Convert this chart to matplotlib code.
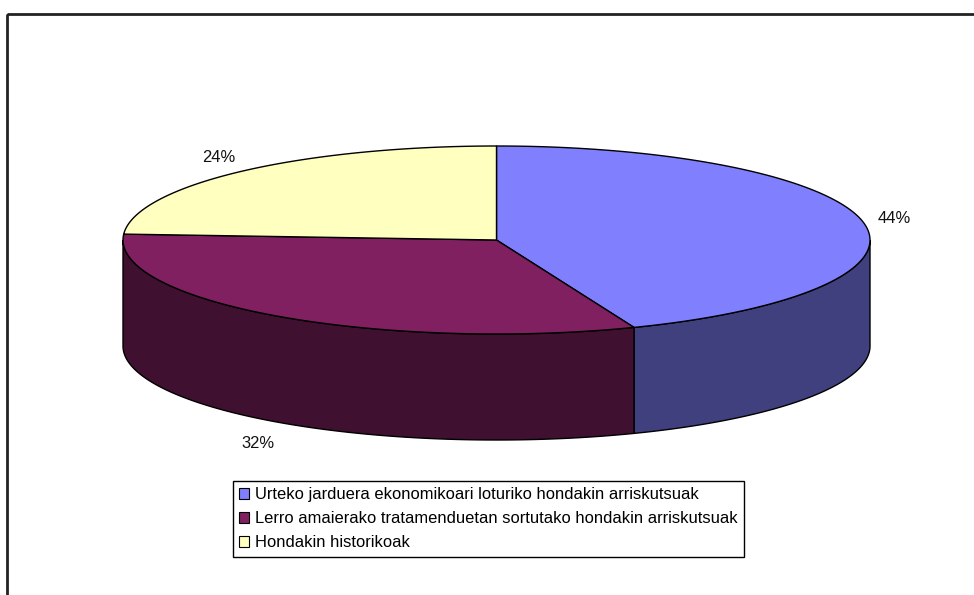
import numpy as np
import matplotlib
matplotlib.use("Agg")
import matplotlib.pyplot as plt
from matplotlib.patches import Polygon, Rectangle, Patch

plt.rcParams['font.family'] = ['Liberation Sans', 'DejaVu Sans']

categories = [
    "Urteko jarduera ekonomikoari loturiko hondakin arriskutsuak",
    "Lerro amaierako tratamenduetan sortutako hondakin arriskutsuak",
    "Hondakin historikoak",
]
values = [44, 32, 24]
labels = ["44%", "32%", "24%"]
top_colors = ["#8080FF", "#802060", "#FFFFC0"]
side_colors = ["#40407F", "#401030", "#80805F"]

W, H = 974, 595
fig = plt.figure(figsize=(W / 100, H / 100), dpi=100)
ax = fig.add_axes([0, 0, 1, 1])
ax.set_xlim(0, W)
ax.set_ylim(H, 0)
ax.axis('off')

# chart frame (partly cropped)
ax.add_patch(Rectangle((7, 14), 990, 600, fill=False, ec="#222222", lw=2, zorder=1))

cx, cy, a, b, d = 496.5, 240.0, 373.5, 94.0, 106.0
total = sum(values)

def pt(theta, dy=0.0):
    return cx + a * np.cos(theta), cy - b * np.sin(theta) + dy

start = np.pi / 2
bounds = []
for v in values:
    end = start - 2 * np.pi * v / total
    bounds.append((start, end))
    start = end

# side walls (front half)
for (s, e), sc in zip(bounds, side_colors):
    th = np.linspace(s, e, 400)
    front = np.sin(th) <= 1e-9
    if not front.any():
        continue
    tf = th[front]
    x, y = pt(tf)
    xb, yb = pt(tf, d)
    poly = np.vstack([np.column_stack([x, y]), np.column_stack([xb, yb])[::-1]])
    ax.add_patch(Polygon(poly, closed=True, fc=sc, ec="black", lw=1.0, zorder=2))

# tops
for (s, e), tc in zip(bounds, top_colors):
    th = np.linspace(s, e, 400)
    x, y = pt(th)
    poly = np.vstack([[cx, cy], np.column_stack([x, y])])
    ax.add_patch(Polygon(poly, closed=True, fc=tc, ec="black", lw=1.0, zorder=3))

# labels
for (s, e), lab in zip(bounds, labels):
    m = (s + e) / 2
    lx = cx + 1.085 * a * np.cos(m)
    ly = cy - 1.2 * b * np.sin(m) + (d + 6 if np.sin(m) < 0 else 0)
    ax.text(lx, ly, lab, ha='center', va='center', fontsize=11.9, color="#111111", zorder=4)

handles = [Patch(fc=c, ec="black", lw=0.8) for c in top_colors]
leg = fig.legend(handles, categories, loc='upper left',
                 bbox_to_anchor=(233 / W, 1 - 481 / H),
                 fontsize=11.9, frameon=True, fancybox=False,
                 edgecolor="black", framealpha=1,
                 handlelength=0.6, handleheight=0.6, handletextpad=0.35,
                 borderpad=0.38, labelspacing=0.55, borderaxespad=0)
leg.get_frame().set_linewidth(1.0)

fig.savefig("out.png", dpi=100)
